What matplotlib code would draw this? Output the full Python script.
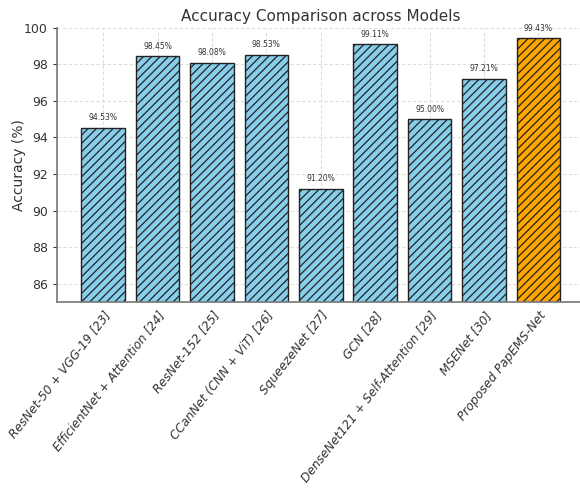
import matplotlib.pyplot as plt
import numpy as np

models = ['ResNet-50 + VGG-19 [23]', 'EfficientNet + Attention [24]', 'ResNet-152 [25]',
          'CCanNet (CNN + ViT) [26]', 'SqueezeNet [27]', 'GCN [28]',
          'DenseNet121 + Self-Attention [29]', 'MSENet [30]', 'Proposed PapEMS-Net']
accuracy = [94.53, 98.45, 98.08, 98.53, 91.20, 99.11, 95.00, 97.21, 99.43]
colors = ['skyblue'] * 8 + ['orange']

plt.rcParams['hatch.linewidth'] = 0.9

fig = plt.figure(figsize=(5.8, 4.9), dpi=100)
ax = fig.add_axes([0.098, 0.384, 0.91, 0.559])

x = np.arange(len(models))
bars = ax.bar(x, accuracy, width=0.8, color=colors, edgecolor='#222222', linewidth=1.0, hatch='////')

ax.bar_label(bars, labels=[f'{v:.2f}%' for v in accuracy], padding=4, fontsize=5.5, color='#333333')

ax.set_ylim(85, 100)
ax.set_xlim(-0.85, 8.85)
ax.set_yticks([86, 88, 90, 92, 94, 96, 98, 100])
ax.set_xticks(x)
ax.set_xticklabels(models, rotation=52, ha='right', rotation_mode='anchor', fontstyle='italic', fontsize=8.7, color='#333333')
ax.tick_params(axis='y', labelsize=9, colors='#333333', length=3, width=0.8)
ax.tick_params(axis='x', length=0, pad=5)
ax.set_ylabel('Accuracy (%)', fontsize=10, color='#333333')
ax.yaxis.set_label_coords(-0.058, 0.5)
ax.set_title('Accuracy Comparison across Models', fontsize=11, color='#333333', pad=5)
ax.grid(True, linestyle=(0, (3, 2)), color='#dddddd', linewidth=0.8)
ax.set_axisbelow(True)
for side in ['top', 'right']:
    ax.spines[side].set_visible(False)
for side in ['left', 'bottom']:
    ax.spines[side].set_color('#777777')
    ax.spines[side].set_linewidth(1.2)

plt.savefig('out.png')
